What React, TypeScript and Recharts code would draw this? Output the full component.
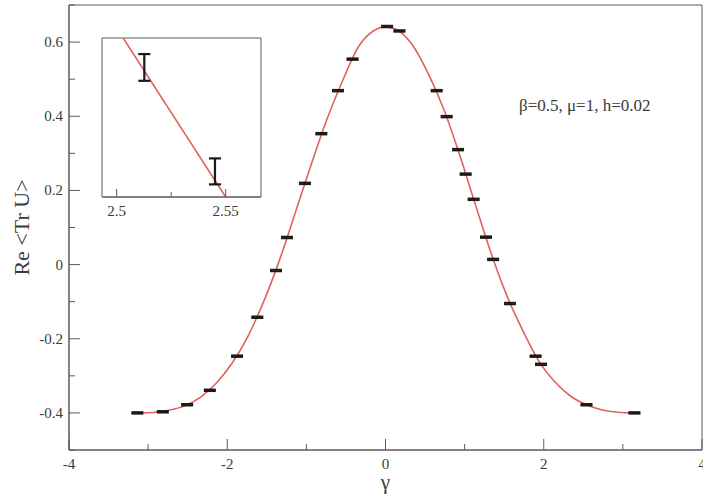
import React from "react";
import { ComposedChart, Line, Scatter, ErrorBar, XAxis, YAxis, ReferenceArea } from "recharts";

// fitted curve
const curveGamma = [-3.14, -2.94, -2.74, -2.54, -2.34, -2.14, -1.94, -1.74, -1.54, -1.34, -1.14, -0.94, -0.74, -0.54, -0.34, -0.14, 0, 0.14, 0.34, 0.54, 0.74, 0.94, 1.14, 1.34, 1.54, 1.74, 1.94, 2.14, 2.34, 2.54, 2.74, 2.94, 3.14];
const curveRe = [-0.4, -0.399, -0.393, -0.381, -0.358, -0.32, -0.266, -0.194, -0.1, 0.012, 0.14, 0.269, 0.392, 0.497, 0.588, 0.632, 0.641, 0.634, 0.592, 0.515, 0.417, 0.294, 0.159, 0.027, -0.087, -0.18, -0.261, -0.316, -0.355, -0.378, -0.392, -0.398, -0.4];

// measured points
const pointGamma = [-3.136, -2.814, -2.507, -2.22, -1.876, -1.62, -1.384, -1.245, -1.018, -0.811, -0.6, -0.416, 0.02, 0.176, 0.647, 0.773, 0.917, 1.013, 1.114, 1.27, 1.36, 1.573, 1.897, 1.965, 2.54, 3.146];
const pointRe = [-0.4, -0.397, -0.378, -0.339, -0.247, -0.142, -0.016, 0.073, 0.219, 0.353, 0.469, 0.554, 0.642, 0.63, 0.469, 0.399, 0.31, 0.244, 0.176, 0.074, 0.014, -0.105, -0.247, -0.269, -0.378, -0.4];
const pointErr = 0.002;

// inset (zoom near gamma = 2.5)
const insetLineGamma = [2.49, 2.57];
const insetLineRe = [-0.37394, -0.38102];
const insetPointGamma = [2.5127, 2.5451];
const insetPointRe = [-0.37586, -0.37858];
const insetPointErr = [0.00035, 0.00034];

const xTicks = [-4, -3, -2, -1, 0, 1, 2, 3, 4];
const xMajor = [-4, -2, 0, 2, 4];
const yTicks = [-0.5, -0.4, -0.3, -0.2, -0.1, 0, 0.1, 0.2, 0.3, 0.4, 0.5, 0.6, 0.7];
const yMajor = [-0.4, -0.2, 0, 0.2, 0.4, 0.6];
const insetXTicks = [2.5, 2.525, 2.55];
const insetXMajor = [2.5, 2.55];
const insetYTicks = [-0.376, -0.377, -0.378, -0.379];

const curve = curveGamma.map((x, i) => ({ x, y: curveRe[i] }));
const points = pointGamma.map((x, i) => ({ x, y: pointRe[i], err: pointErr }));
const insetLine = insetLineGamma.map((x, i) => ({ x, y: insetLineRe[i] }));
const insetPoints = insetPointGamma.map((x, i) => ({ x, y: insetPointRe[i], err: insetPointErr[i] }));

const FONT = "Liberation Serif, Times New Roman, DejaVu Serif, serif";
const AXIS = "#5a5a5a";
const TEXT = "#3a3a3a";
const RED = "#e0625c";

const near = (list: number[], v: number) => list.some((m) => Math.abs(m - v) < 1e-9);

function AxisTick(props: any) {
  const { x, y, payload, side, majors, majorLen, minorLen, showLabel, fontSize = 15 } = props;
  const v = payload.value as number;
  const major = near(majors, v);
  const len = major ? majorLen : minorLen;
  let x2 = x;
  let y2 = y;
  if (side === "bottom") y2 = y - len;
  else if (side === "top") y2 = y + len;
  else if (side === "left") x2 = x + len;
  else x2 = x - len;
  let label = null;
  if (showLabel && major) {
    const txt = String(v);
    label =
      side === "bottom" ? (
        <text x={x} y={y + 19} textAnchor="middle" fontSize={fontSize} fontFamily={FONT} fill={TEXT}>
          {txt}
        </text>
      ) : (
        <text x={x - 6} y={y + 5} textAnchor="end" fontSize={fontSize} fontFamily={FONT} fill={TEXT}>
          {txt}
        </text>
      );
  }
  return (
    <g>
      <line x1={x} y1={y} x2={x2} y2={y2} stroke={AXIS} strokeWidth={1} />
      {label}
    </g>
  );
}

const noMarker = () => <g />;

export default function App() {
  return (
    <div style={{ position: "absolute", left: 0, top: 0, width: 703, height: 495, background: "#fff" }}>
      <ComposedChart width={703} height={495} margin={{ top: 5, right: 1, left: 0, bottom: 0 }}>
        <XAxis
          dataKey="x"
          type="number"
          domain={[-4, 4]}
          ticks={xTicks}
          interval={0}
          height={45}
          tickSize={0}
          tickMargin={0}
          axisLine={{ stroke: AXIS }}
          tickLine={false}
          tick={(p: any) => <AxisTick {...p} side="bottom" majors={xMajor} majorLen={11} minorLen={6} showLabel />}
          label={{ value: "γ", position: "insideBottom", offset: 6, fontSize: 21, fontFamily: FONT, fill: TEXT }}
        />
        <XAxis
          xAxisId="top"
          orientation="top"
          dataKey="x"
          type="number"
          domain={[-4, 4]}
          ticks={xTicks}
          interval={0}
          height={0}
          tickSize={0}
          tickMargin={0}
          axisLine={{ stroke: AXIS }}
          tickLine={false}
          tick={(p: any) => <AxisTick {...p} side="top" majors={xMajor} majorLen={11} minorLen={6} />}
        />
        <YAxis
          type="number"
          domain={[-0.5, 0.7]}
          ticks={yTicks}
          interval={0}
          width={69}
          tickSize={0}
          tickMargin={0}
          axisLine={{ stroke: AXIS }}
          tickLine={false}
          tick={(p: any) => <AxisTick {...p} side="left" majors={yMajor} majorLen={11} minorLen={6} showLabel />}
          label={{
            value: "Re <Tr U>",
            angle: -90,
            position: "insideLeft",
            offset: 21,
            fontSize: 22,
            fontFamily: FONT,
            fill: TEXT,
            style: { textAnchor: "middle" },
          }}
        />
        <YAxis
          yAxisId="right"
          orientation="right"
          type="number"
          domain={[-0.5, 0.7]}
          ticks={yTicks}
          interval={0}
          width={0}
          tickSize={0}
          tickMargin={0}
          axisLine={{ stroke: AXIS }}
          tickLine={false}
          tick={(p: any) => <AxisTick {...p} side="right" majors={yMajor} majorLen={11} minorLen={6} />}
        />
        <ReferenceArea x1={-4} x2={4} y1={-0.5} y2={0.7} fill="none" stroke={AXIS} strokeWidth={1} />
        <Line data={curve} dataKey="y" type="monotone" stroke={RED} strokeWidth={1.6} dot={false} isAnimationActive={false} />
        <Scatter data={points} dataKey="y" shape={noMarker} isAnimationActive={false}>
          <ErrorBar dataKey="err" direction="y" width={6} stroke="#1a1a1a" strokeWidth={2} isAnimationActive={false} />
        </Scatter>
      </ComposedChart>

      <div
        style={{
          position: "absolute",
          left: 519,
          top: 96,
          fontFamily: FONT,
          fontSize: 17,
          color: TEXT,
          whiteSpace: "nowrap",
        }}
      >
        β=0.5, μ=1, h=0.02
      </div>

      <div style={{ position: "absolute", left: 90, top: 30 }}>
        <ComposedChart width={185} height={200} margin={{ top: 8, right: 14, left: 12, bottom: 0 }}>
          <XAxis
            dataKey="x"
            type="number"
            domain={[2.4933, 2.5662]}
            allowDataOverflow
            ticks={insetXTicks}
            interval={0}
            height={33}
            tickSize={0}
            tickMargin={0}
            axisLine={{ stroke: AXIS }}
            tickLine={false}
            tick={(p: any) => <AxisTick {...p} side="bottom" majors={insetXMajor} majorLen={8} minorLen={5} showLabel />}
          />
          <XAxis
            xAxisId="top"
            orientation="top"
            dataKey="x"
            type="number"
            domain={[2.4933, 2.5662]}
            allowDataOverflow
            ticks={insetXTicks}
            interval={0}
            height={0}
            tickSize={0}
            tickMargin={0}
            axisLine={{ stroke: AXIS }}
            tickLine={false}
            tick={(p: any) => <AxisTick {...p} side="top" majors={insetXMajor} majorLen={7} minorLen={4} />}
          />
          <YAxis
            type="number"
            domain={[-0.37925, -0.37509]}
            allowDataOverflow
            ticks={insetYTicks}
            interval={0}
            width={0}
            tickSize={0}
            tickMargin={0}
            axisLine={{ stroke: AXIS }}
            tickLine={false}
            tick={(p: any) => <AxisTick {...p} side="left" majors={insetYTicks} majorLen={11} minorLen={11} />}
          />
          <YAxis
            yAxisId="right"
            orientation="right"
            type="number"
            domain={[-0.37925, -0.37509]}
            allowDataOverflow
            ticks={insetYTicks}
            interval={0}
            width={0}
            tickSize={0}
            tickMargin={0}
            axisLine={{ stroke: AXIS }}
            tickLine={false}
            tick={(p: any) => <AxisTick {...p} side="right" majors={insetYTicks} majorLen={11} minorLen={11} />}
          />
          <ReferenceArea x1={2.4933} x2={2.5662} y1={-0.37925} y2={-0.37509} fill="none" stroke={AXIS} strokeWidth={1} />
          <Line data={insetLine} dataKey="y" type="linear" stroke={RED} strokeWidth={1.6} dot={false} isAnimationActive={false} />
          <Scatter data={insetPoints} dataKey="y" shape={noMarker} isAnimationActive={false}>
            <ErrorBar dataKey="err" direction="y" width={6} stroke="#1a1a1a" strokeWidth={2.2} isAnimationActive={false} />
          </Scatter>
        </ComposedChart>
      </div>
    </div>
  );
}
